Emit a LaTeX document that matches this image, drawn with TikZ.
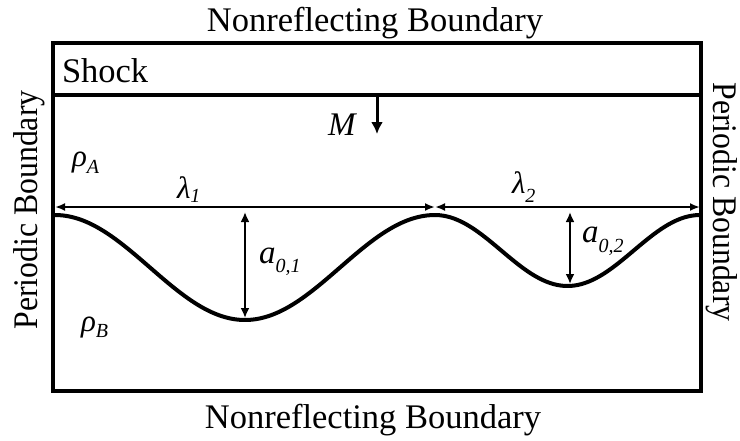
\documentclass[tikz,border=0pt]{standalone}
\usepackage{fontspec}
\setmainfont{Liberation Serif}
\usetikzlibrary{arrows.meta}
\newcommand\bigtxt{\fontsize{34.5}{40}\selectfont}
\newcommand\symA[1]{{\fontsize{33}{36}\selectfont\itshape #1}}
\newcommand\subA[2]{\raisebox{-#1pt}{\fontsize{20}{22}\selectfont\itshape #2}}
\begin{document}
\begin{tikzpicture}[x=1pt,y=-1pt,
  boxline/.style={line width=4pt},
  wave/.style={line width=4pt, line join=round},
  dimarrow/.style={line width=2pt, {Latex[length=10pt,width=8pt]}-{Latex[length=10pt,width=8pt]}},
  amparrow/.style={line width=2.4pt, {Latex[length=10pt,width=9pt]}-{Latex[length=10pt,width=9pt]}},
  flowarrow/.style={line width=3pt, -{Latex[length=12pt,width=12pt]}},
  lbl/.style={inner sep=0pt, outer sep=0pt}]
\useasboundingbox (0,0) rectangle (740,440);
% box corners
\coordinate (tl) at (53,43);
\coordinate (br) at (701,391);
\coordinate (sl) at (53,95);
\coordinate (sr) at (701,95);
\draw[boxline] (tl) rectangle (br);
\draw[boxline] (sl) -- (sr);
% wave
\coordinate (c0) at (55,215);
\coordinate (c1) at (245,320);
\coordinate (c2) at (435,215);
\coordinate (c3) at (568,286);
\coordinate (c4) at (700,215);
\draw[wave] plot[domain=55:435, samples=90, smooth] (\x, {215+52.5*(1-cos(0.947368*(\x-55)))})
  -- plot[domain=435:700, samples=70, smooth] (\x, {215+35.5*(1-cos(1.358491*(\x-435)))});
% wavelength arrows
\coordinate (l0) at (55,207);
\coordinate (l1) at (435,207);
\coordinate (l2) at (700,207);
\draw[dimarrow] (l0) -- (l1);
\draw[dimarrow] (l1) -- (l2);
% amplitude arrows
\coordinate (a1t) at (245,212);
\coordinate (a1b) at (245,318);
\coordinate (a2t) at (570,212);
\coordinate (a2b) at (570,284);
\draw[amparrow] (a1t) -- (a1b);
\draw[amparrow] (a2t) -- (a2b);
% flow arrow
\coordinate (m0) at (377,95);
\coordinate (m1) at (377,134);
\draw[flowarrow] (m0) -- (m1);
% texts
\node[lbl, anchor=base] (top) at (375,31) {\bigtxt Nonreflecting Boundary};
\node[lbl, anchor=base] (bot) at (373,428) {\bigtxt Nonreflecting Boundary};
\node[lbl, anchor=base, rotate=90] (left) at (37,210) {\scalebox{0.92}[1]{\bigtxt Periodic Boundary}};
\node[lbl, anchor=base, rotate=-90] (right) at (713,202) {\scalebox{0.92}[1]{\bigtxt Periodic Boundary}};
\node[lbl, anchor=base west] (shock) at (62,82) {\bigtxt Shock};
\node[lbl, anchor=base west] (M) at (328,135) {\symA{M}};
\node[lbl, anchor=base west] (rhoA) at (72,166) {{\fontsize{31}{34}\selectfont\itshape ρ}\subA{7}{A}};
\node[lbl, anchor=base west] (rhoB) at (81,331) {{\fontsize{31}{34}\selectfont\itshape ρ}\subA{6}{B}};
\node[lbl, anchor=base west] (lam1) at (177,198) {{\fontsize{31}{34}\selectfont\itshape λ}\subA{4}{1}};
\node[lbl, anchor=base west] (lam2) at (512,193) {{\fontsize{31}{34}\selectfont\itshape λ}\subA{9}{2}};
\node[lbl, anchor=base west] (amp1) at (259,263) {\symA{a}\subA{9}{0,1}};
\node[lbl, anchor=base west] (amp2) at (582,242) {\symA{a}\subA{10}{0,2}};
\end{tikzpicture}
\end{document}
